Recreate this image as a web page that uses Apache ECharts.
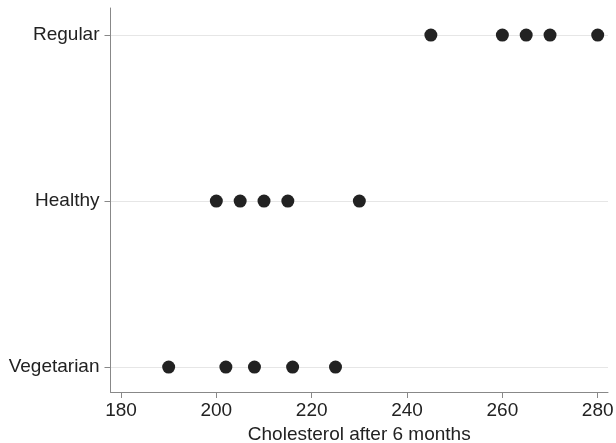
<!DOCTYPE html>
<html>
<head>
    <meta charset="utf-8">
    <title>cholesterol</title>
    <style type="text/css">
        * { margin: 0; padding: 0; }
        body { background: #fff; }
        #chart { width: 616px; height: 443px; }
    </style>
</head>
<body>
<div id="chart"></div>
<script src="https://cdn.jsdelivr.net/npm/echarts@6/dist/echarts.min.js"></script>
<script type="text/javascript">
    // diet groups, bottom to top
    let diets = ['Vegetarian', 'Healthy', 'Regular'];
    let vegetarian = [190, 202, 208, 216, 225];
    let healthy = [200, 205, 210, 215, 230];
    let regular = [245, 260, 265, 270, 280];
    let xTicks = [180, 200, 220, 240, 260, 280];

    let groups = [vegetarian, healthy, regular];
    let font = '"Liberation Sans", Arial, Helvetica, sans-serif';

    let myChart = echarts.init(document.getElementById('chart'));

    let series = groups.map(function (vals, i) {
        return {
            name: diets[i],
            type: 'scatter',
            symbol: 'circle',
            symbolSize: 13,
            itemStyle: { color: '#222222', opacity: 1 },
            data: vals.map(function (v) { return [v, i]; }),
            markLine: {
                silent: true,
                symbol: 'none',
                label: { show: false },
                lineStyle: { color: '#e6e6e6', width: 1, type: 'solid' },
                data: [{ yAxis: i }],
                z: 0
            },
            z: 3
        };
    });

    let option = {
        animation: false,
        grid: {
            left: 110.5, right: 8, top: 8, bottom: 51,
            containLabel: false,
            outerBoundsMode: 'none'     // v6: don't shrink grid to fit labels
        },
        xAxis: {
            type: 'value',
            min: 177.8,
            max: 282.16,
            name: 'Cholesterol after 6 months',
            nameLocation: 'middle',
            nameGap: 29,
            nameTextStyle: { fontFamily: font, fontSize: 19, color: '#222' },
            axisLine: { show: true, onZero: false, lineStyle: { color: '#888', width: 1 } },
            axisTick: { show: true, length: 6, customValues: xTicks, lineStyle: { color: '#888' } },
            axisLabel: {
                customValues: xTicks,
                margin: 9,
                fontFamily: font, fontSize: 19, color: '#222'
            },
            splitLine: { show: false }
        },
        yAxis: {
            type: 'value',
            min: -0.15,
            max: 2.163,
            axisLine: { show: true, onZero: false, lineStyle: { color: '#888', width: 1 } },
            axisTick: { show: true, length: 6, customValues: [0, 1, 2], lineStyle: { color: '#888' } },
            axisLabel: {
                customValues: [0, 1, 2],
                margin: 11,
                fontFamily: font, fontSize: 19, color: '#222',
                formatter: function (v) { return diets[Math.round(v)] || ''; }
            },
            splitLine: { show: false }
        },
        series: series
    };

    myChart.setOption(option);
</script>
</body>
</html>
